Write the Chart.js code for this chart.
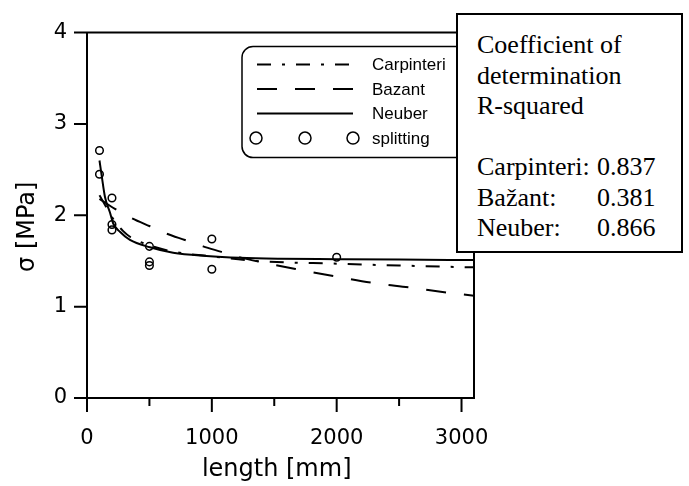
<!DOCTYPE html>
<html>
<head>
<meta charset="utf-8">
<script src="https://cdn.jsdelivr.net/npm/chart.js@4/dist/chart.umd.min.js"></script>
<style>
    body { margin: 0; background: #fff; }
    #wrap { position: relative; width: 689px; height: 486px; }
    #r2box {
        position: absolute; left: 456px; top: 13px; width: 227px; height: 240px;
        box-sizing: border-box; border: 2px solid #000; background: #fff;
        padding: 15px 0 0 19px;
        font-family: "Liberation Serif", "Times New Roman", serif; font-size: 26px; line-height: 30.5px; color: #000;
    }
    #r2box .lab { display: inline-block; width: 120px; }
</style>
</head>
<body>
<div id="wrap">
    <canvas id="chart" width="689" height="486"></canvas>
    <div id="r2box"></div>
</div>
<script>
// test data: splitting tests
var splitLength = [100, 100, 200, 200, 200, 500, 500, 500, 1000, 1000, 2000];
var splitStress = [2.71, 2.45, 2.19, 1.90, 1.84, 1.66, 1.49, 1.45, 1.74, 1.41, 1.54];

// fitted curves
var carpLength = [100, 150, 210, 288, 350, 424, 504, 700, 1000, 1357, 2000, 2500, 3100];
var carpStress = [2.22, 2.10, 1.96, 1.83, 1.76, 1.71, 1.67, 1.60, 1.55, 1.50, 1.47, 1.45, 1.43];

var bazLength = [100, 224, 357, 504, 637, 784, 930, 1077, 1197, 1384, 1677, 1997, 2290, 2587, 2907, 3100];
var bazStress = [2.18, 2.07, 1.97, 1.88, 1.80, 1.73, 1.66, 1.60, 1.55, 1.49, 1.41, 1.33, 1.26, 1.21, 1.15, 1.12];

var neuLength = [100, 117, 144, 184, 210, 264, 344, 504, 690, 957, 1224, 1544, 2000, 2500, 3100];
var neuStress = [2.60, 2.44, 2.20, 2.03, 1.91, 1.82, 1.73, 1.65, 1.59, 1.555, 1.535, 1.525, 1.52, 1.515, 1.51];

var xTickValues = [0, 1000, 2000, 3000];
var yTickValues = [0, 1, 2, 3, 4];

var seriesNames = ['Carpinteri', 'Bazant', 'Neuber', 'splitting'];
var r2Names = ['Carpinteri:', 'Bažant:', 'Neuber:'];
var r2Values = ['0.837', '0.381', '0.866'];

function toPoints(xs, ys) {
    return xs.map(function (x, i) { return { x: x, y: ys[i] }; });
}

function toTicks(values) {
    return values.map(function (v) { return { value: v }; });
}

// R-squared box
var html = 'Coefficient of<br>determination<br>R-squared<br><br>';
for (var i = 0; i < r2Names.length; i++) {
    html += '<span class="lab">' + r2Names[i] + '</span>' + r2Values[i] + '<br>';
}
document.getElementById('r2box').innerHTML = html;

var framePlugin = {
    id: 'frame',
    afterDraw: function (chart) {
        var ctx = chart.ctx, a = chart.chartArea;
        var xs = chart.scales.x, ys = chart.scales.y;
        ctx.save();
        ctx.strokeStyle = '#000';
        ctx.lineWidth = 2;
        ctx.beginPath();
        ctx.moveTo(a.left, a.top);
        ctx.lineTo(a.right, a.top);
        ctx.lineTo(a.right, a.bottom);
        xs.ticks.forEach(function (t) {
            var px = xs.getPixelForValue(t.value);
            ctx.moveTo(px, a.bottom); ctx.lineTo(px, a.bottom + 14);
            // minor tick half way
            var mx = xs.getPixelForValue(t.value + 500);
            if (mx < a.right) { ctx.moveTo(mx, a.bottom); ctx.lineTo(mx, a.bottom + 8); }
        });
        ys.ticks.forEach(function (t) {
            var py = ys.getPixelForValue(t.value);
            ctx.moveTo(a.left - 13, py); ctx.lineTo(a.left, py);
        });
        ctx.stroke();

        // legend box
        var x0 = a.left + 155, y0 = a.top + 14;
        ctx.lineWidth = 1.5;
        ctx.beginPath();
        ctx.roundRect(x0, y0, 240, 111, 11);
        ctx.stroke();
        ctx.font = '17px "Liberation Sans", Arial, sans-serif';
        ctx.textBaseline = 'middle';
        ctx.fillStyle = '#000';
        chart.data.datasets.forEach(function (ds, k) {
            var yy = y0 + 18 + k * 24.5;
            if (ds.showLine === false) {
                ctx.setLineDash([]);
                ctx.lineWidth = 1.5;
                [14, 63, 111].forEach(function (dx) {
                    ctx.beginPath();
                    ctx.arc(x0 + dx, yy, 6, 0, Math.PI * 2);
                    ctx.stroke();
                });
            } else {
                ctx.setLineDash(ds.borderDash || []);
                ctx.lineWidth = ds.borderWidth;
                ctx.beginPath();
                ctx.moveTo(x0 + 15, yy);
                ctx.lineTo(x0 + 111, yy);
                ctx.stroke();
            }
            ctx.fillText(ds.label, x0 + 130, yy + 1);
        });
        ctx.restore();
    }
};

var ctx = document.getElementById('chart').getContext('2d');
new Chart(ctx, {
    type: 'scatter',
    data: {
        datasets: [
            {
                label: seriesNames[0], type: 'line', data: toPoints(carpLength, carpStress),
                borderColor: '#000', borderWidth: 2, borderDash: [14, 11, 3, 11],
                pointRadius: 0, fill: false, cubicInterpolationMode: 'monotone'
            },
            {
                label: seriesNames[1], type: 'line', data: toPoints(bazLength, bazStress),
                borderColor: '#000', borderWidth: 2, borderDash: [20, 18],
                pointRadius: 0, fill: false, cubicInterpolationMode: 'monotone'
            },
            {
                label: seriesNames[2], type: 'line', data: toPoints(neuLength, neuStress),
                borderColor: '#000', borderWidth: 2,
                pointRadius: 0, fill: false, cubicInterpolationMode: 'monotone'
            },
            {
                label: seriesNames[3], showLine: false, data: toPoints(splitLength, splitStress),
                borderColor: '#000', backgroundColor: 'rgba(0,0,0,0)', borderWidth: 1.5,
                pointRadius: 3.8, pointStyle: 'circle'
            }
        ]
    },
    options: {
        responsive: false,
        animation: false,
        devicePixelRatio: 1,
        layout: { padding: { top: 13, right: 215, bottom: 0, left: 0 } },
        plugins: { legend: { display: false }, tooltip: { enabled: false } },
        scales: {
            x: {
                type: 'linear', min: 0, max: 3100,
                afterBuildTicks: function (s) { s.ticks = toTicks(xTickValues); },
                afterFit: function (s) { s.height = 88; },
                grid: { drawOnChartArea: false, drawTicks: false },
                border: { color: '#000', width: 2 },
                ticks: {
                    padding: 28, color: '#000', autoSkip: false, maxRotation: 0,
                    font: { family: '"DejaVu Sans", sans-serif', size: 21 },
                    callback: function (v) { return String(v); }
                },
                title: {
                    display: true, text: 'length [mm] ', color: '#000',
                    font: { family: '"DejaVu Sans", sans-serif', size: 24, lineHeight: 1 },
                    padding: { top: 0, bottom: 4 }
                }
            },
            y: {
                type: 'linear', min: 0, max: 4,
                afterBuildTicks: function (s) { s.ticks = toTicks(yTickValues); },
                afterFit: function (s) { s.width = 87; },
                grid: { drawOnChartArea: false, drawTicks: false },
                border: { color: '#000', width: 2 },
                ticks: {
                    padding: 20, color: '#000',
                    font: { family: '"DejaVu Sans", sans-serif', size: 21 },
                    callback: function (v) { return String(v); }
                },
                title: {
                    display: true, text: 'σ [MPa]   ', color: '#000',
                    font: { family: '"DejaVu Sans", sans-serif', size: 24, lineHeight: 1 },
                    padding: { top: 16, bottom: 0 }
                }
            }
        }
    },
    plugins: [framePlugin]
});
</script>
</body>
</html>
